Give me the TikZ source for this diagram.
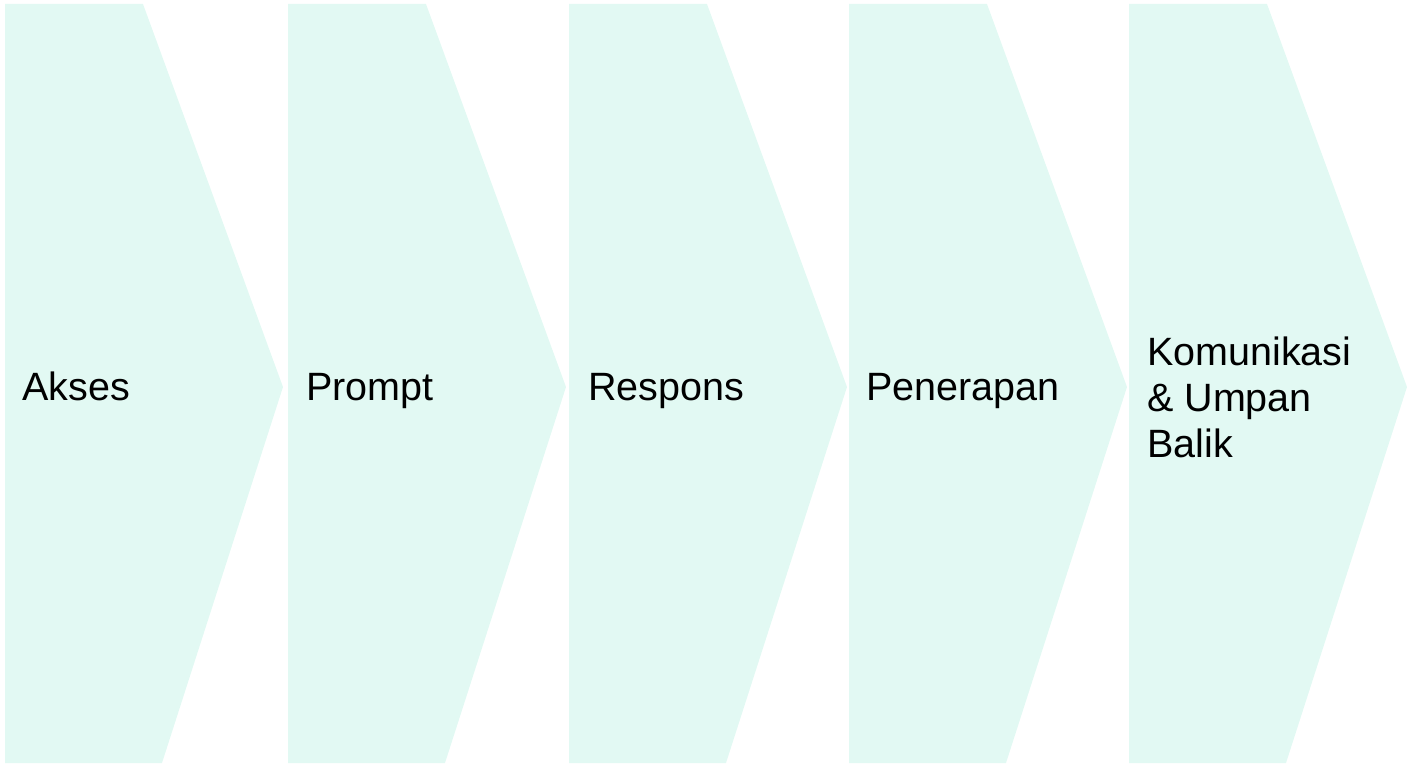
\documentclass[tikz,border=0pt]{standalone}
\usepackage{fontspec}
\setmainfont{Liberation Sans}
\definecolor{mint}{HTML}{E2F9F3}
\begin{document}
\begin{tikzpicture}[x=1pt,y=-1pt,
  chev/.style={fill=mint,draw=none},
  lbl/.style={anchor=base west,inner sep=0pt,font=\fontsize{39.5}{46}\selectfont,text=black,align=left}]
\useasboundingbox (0,0) rectangle (1408,768);
\foreach \x in {5,288,569,849,1129}{
  \path[chev] (\x,4) -- (\x+138,4) -- (\x+278,387) -- (\x+157,763) -- (\x,763) -- cycle;
}
\node[lbl] (a) at (22,400) {Akses};
\node[lbl] (b) at (306,400) {Prompt};
\node[lbl] (c) at (588,400) {Respons};
\node[lbl] (d) at (866,400) {Penerapan};
\node[lbl] (e) at (1147,457) {Komunikasi\\\& Umpan\\Balik};
\end{tikzpicture}
\end{document}
